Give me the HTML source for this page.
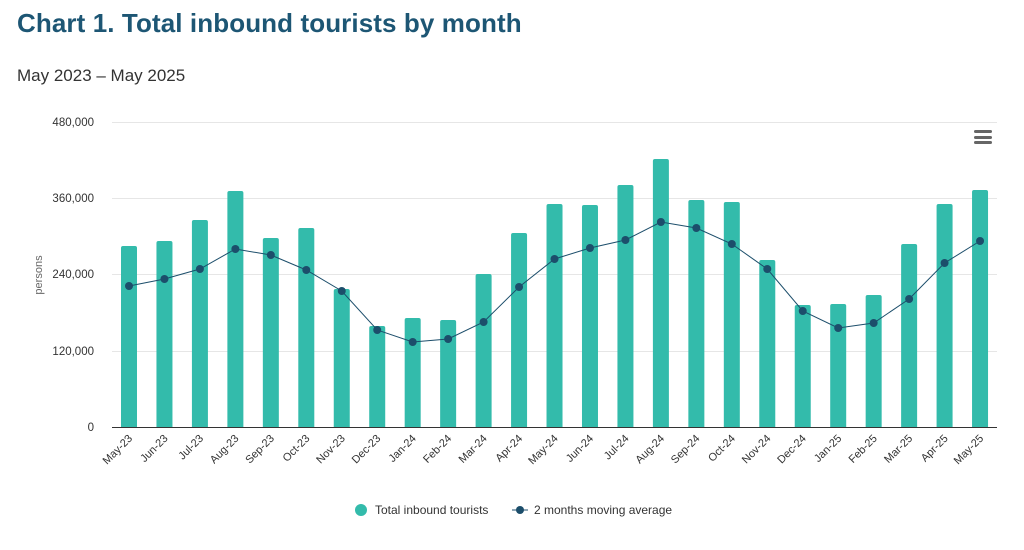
<!DOCTYPE html>
<html><head><meta charset="utf-8"><style>
body{margin:0;background:#fff;width:1024px;height:545px;overflow:hidden;font-family:"Liberation Sans",sans-serif}
</style></head><body>
<svg width="1024" height="545" xmlns="http://www.w3.org/2000/svg" font-family="Liberation Sans, sans-serif">
<text x="17" y="32" font-size="26" fill="#1d5674" font-weight="bold" letter-spacing="0.1">Chart 1. Total inbound tourists by month</text>
<text x="17" y="81" font-size="17" fill="#333">May 2023 – May 2025</text>
<g stroke="#e6e6e6" stroke-width="1">
<line x1="112" x2="997" y1="122.5" y2="122.5"/><line x1="112" x2="997" y1="198.5" y2="198.5"/>
<line x1="112" x2="997" y1="274.5" y2="274.5"/><line x1="112" x2="997" y1="351.5" y2="351.5"/>
</g>
<g font-size="11.5" fill="#333" text-anchor="end">
<text x="94" y="126">480,000</text><text x="94" y="202">360,000</text><text x="94" y="278">240,000</text><text x="94" y="355">120,000</text><text x="94" y="431">0</text>
</g>
<text transform="translate(42,275) rotate(-90)" font-size="11" fill="#666" text-anchor="middle">persons</text>
<g fill="#666"><rect x="974" y="130" width="18" height="3" rx="1.5"/><rect x="974" y="136" width="18" height="3" rx="1.5"/><rect x="974" y="141" width="18" height="3" rx="1.5"/></g>
<g id="bars" fill="#33bbab"></g>
<line x1="112" x2="997" y1="427.5" y2="427.5" stroke="#333" stroke-width="1"/>
<polyline id="ln" fill="none" stroke="#1c4e6b" stroke-width="1"/>
<g id="dots" fill="#1c4e6b"></g>
<g id="xl" font-size="11" fill="#333" text-anchor="end"></g>
<circle cx="361" cy="510" r="6" fill="#33bbab"/>
<text x="375" y="514" font-size="12" fill="#333">Total inbound tourists</text>
<line x1="512" x2="528" y1="510" y2="510" stroke="#1c4e6b"/><circle cx="520" cy="510" r="4" fill="#1c4e6b"/>
<text x="534" y="514" font-size="12" fill="#333">2 months moving average</text>
</svg>
<script>
var tops=[246,241,220,191,238,228,289,326,318,320,274,233,204,205,185,159,200,202,260,305,304,295,244,204,190];
var dots=[286,279,269,249,255,270,291,330,342,339,322,287,259,248,240,222,228,244,269,311,328,323,299,263,241];
var labs=["May-23","Jun-23","Jul-23","Aug-23","Sep-23","Oct-23","Nov-23","Dec-23","Jan-24","Feb-24","Mar-24","Apr-24","May-24","Jun-24","Jul-24","Aug-24","Sep-24","Oct-24","Nov-24","Dec-24","Jan-25","Feb-25","Mar-25","Apr-25","May-25"];
var ns="http://www.w3.org/2000/svg",b=document.getElementById("bars"),d=document.getElementById("dots"),xl=document.getElementById("xl"),pts=[];
for(var i=0;i<25;i++){var cx=129+i*35.46;
var r=document.createElementNS(ns,"path");var t=tops[i];
r.setAttribute("d","M"+(cx-8)+",427 L"+(cx-8)+","+(t+2)+" Q"+(cx-8)+","+t+" "+(cx-6)+","+t+" L"+(cx+6)+","+t+" Q"+(cx+8)+","+t+" "+(cx+8)+","+(t+2)+" L"+(cx+8)+",427Z");b.appendChild(r);
var c=document.createElementNS(ns,"circle");c.setAttribute("cx",cx);c.setAttribute("cy",dots[i]);c.setAttribute("r",4);d.appendChild(c);
pts.push(cx+","+dots[i]);
var tx=document.createElementNS(ns,"text");tx.setAttribute("transform","translate("+(cx+4)+",439) rotate(-45)");tx.textContent=labs[i];xl.appendChild(tx);}
document.getElementById("ln").setAttribute("points",pts.join(" "));
</script>
</body></html>
